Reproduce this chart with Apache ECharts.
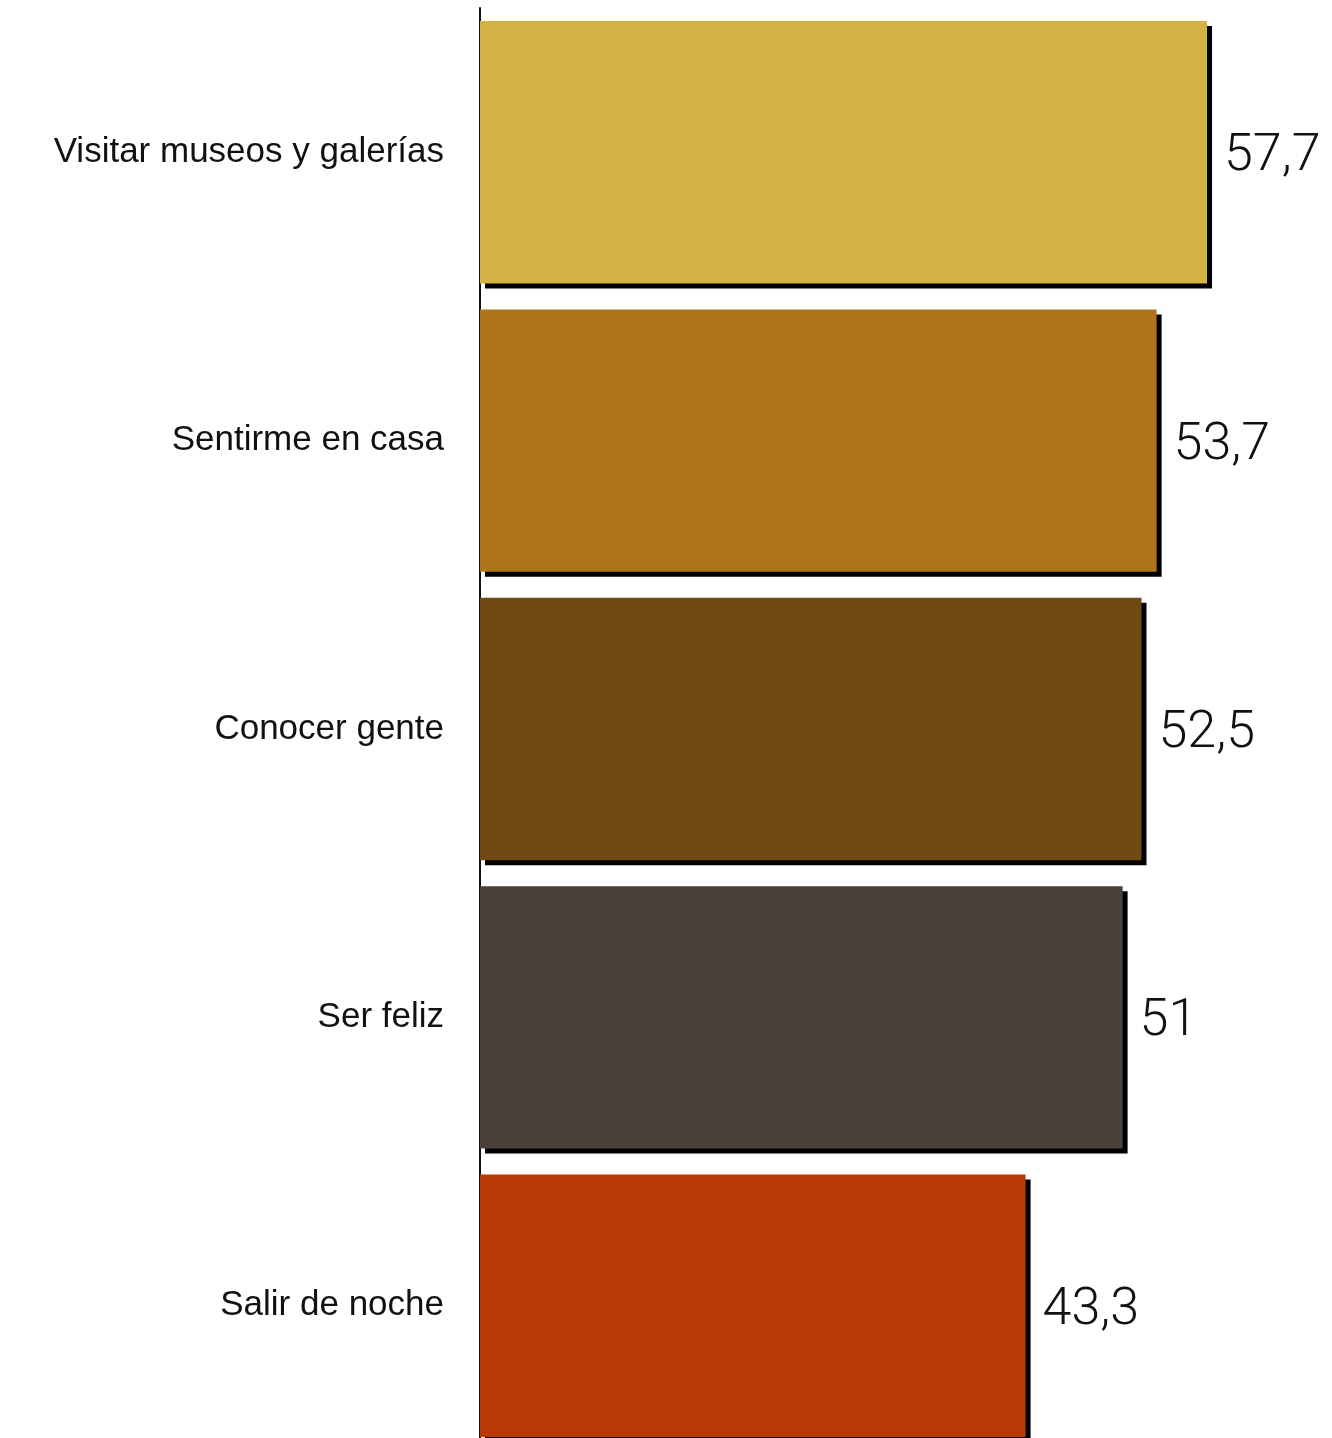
<!DOCTYPE html>
<html>
<head>
<meta charset="utf-8">
<script src="https://cdn.jsdelivr.net/npm/echarts@6/dist/echarts.min.js"></script>
<style>
html,body{margin:0;padding:0;background:#fff;}
#chart{width:1332px;height:1438px;}
</style>
</head>
<body>
<div id="chart"></div>
<script>
const categories = ["Visitar museos y galerías", "Sentirme en casa", "Conocer gente", "Ser feliz", "Salir de noche"];
const values = [57.7, 53.7, 52.5, 51, 43.3];
const colors = ["#D5B245", "#AF751A", "#6F4A12", "#4A4139", "#B73904"];

const chart = echarts.init(document.getElementById('chart'), null, {renderer: 'canvas'});
chart.setOption({
  backgroundColor: '#ffffff',
  animation: false,
  grid: {left: 480, top: 8, width: 756, height: 1442, containLabel: false, outerBoundsMode: 'none'},
  xAxis: {
    type: 'value', min: 0, max: 60, show: false
  },
  yAxis: {
    type: 'category', data: categories, inverse: true,
    axisLine: {show: true, lineStyle: {color: '#111', width: 2}},
    axisTick: {show: false},
    splitLine: {show: false},
    axisLabel: {color: '#111', fontSize: 35, fontFamily: 'Liberation Sans', fontWeight: 400, margin: 36, padding: [4, 0, 0, 0]}
  },
  series: [{
    type: 'bar',
    barCategoryGap: '9%',
    z: 1,
    data: values.map((v, i) => ({value: v, itemStyle: {color: colors[i]}})),
    itemStyle: {shadowColor: '#000', shadowBlur: 0, shadowOffsetX: 5, shadowOffsetY: 5},
    label: {
      show: true, position: 'right', distance: 17, offset: [0, 5],
      color: '#111', fontSize: 52, fontFamily: 'Roboto', fontWeight: 300,
      formatter: p => String(p.value).replace('.', ',')
    }
  }]
});
</script>
</body>
</html>
